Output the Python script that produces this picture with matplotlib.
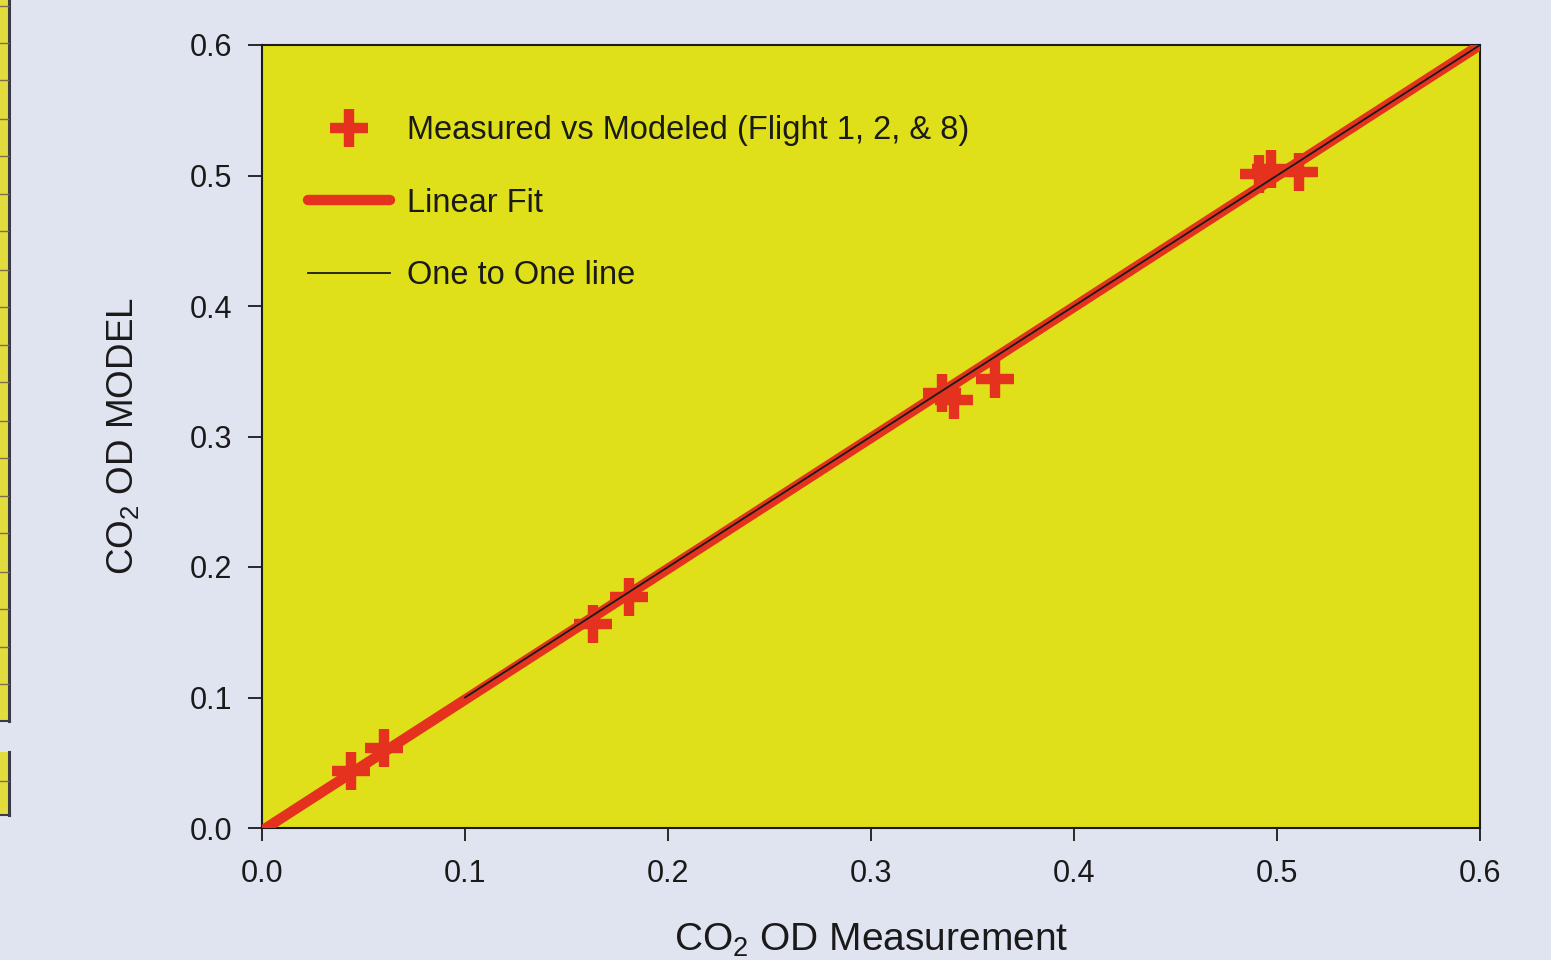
import matplotlib
matplotlib.use("Agg")
import matplotlib.pyplot as plt
from matplotlib.patches import Rectangle
from matplotlib.lines import Line2D

plt.rcParams['font.family'] = ['Liberation Sans', 'DejaVu Sans']
plt.rcParams['mathtext.fontset'] = 'custom'
plt.rcParams['mathtext.rm'] = 'Liberation Sans'
plt.rcParams['mathtext.it'] = 'Liberation Sans:italic'

# Data
measured = [0.044, 0.060, 0.163, 0.181, 0.335, 0.341, 0.361, 0.491, 0.497, 0.511]
modeled = [0.044, 0.061, 0.156, 0.177, 0.333, 0.328, 0.344, 0.501, 0.505, 0.503]
fit_x = [0.002, 0.6]
fit_y = [0.0, 0.6]
one_x = [0.1, 0.6]
one_y = [0.1, 0.6]
ticks = [0.0, 0.1, 0.2, 0.3, 0.4, 0.5, 0.6]
tick_labels = ['0.0', '0.1', '0.2', '0.3', '0.4', '0.5', '0.6']

RED = '#e5321f'
YEL = '#e0e01a'
BG = '#e0e3f0'
INK = '#1a1a1a'

fig = plt.figure(figsize=(15.51, 9.6), dpi=100, facecolor=BG)

# Fragment of table on left edge
W, H = 1551, 960
def fx(px): return px / W
def fy(py): return 1 - py / H
cells = [(0, 721), (752, 815)]
for y0, y1 in cells:
    fig.patches.append(Rectangle((0, fy(y1)), fx(8), fy(y0) - fy(y1), transform=fig.transFigure,
                                 facecolor='#e2dc3c', edgecolor='none'))
    fig.lines.append(Line2D([fx(9), fx(9)], [fy(y0), fy(y1)], transform=fig.transFigure,
                            color='#3a3a48', lw=2.2))
    fig.lines.append(Line2D([0, fx(10)], [fy(y1), fy(y1)], transform=fig.transFigure,
                            color='#3a3a48', lw=1.5))
for py in [6, 43, 80, 119, 156, 194, 231, 270, 307, 345, 382, 421, 458, 496, 533, 572, 609, 647, 684, 781]:
    fig.lines.append(Line2D([0, fx(8)], [fy(py), fy(py)], transform=fig.transFigure,
                            color='#7a7048', lw=1.0))

ax = fig.add_axes([262 / W, 1 - 828 / H, (1480 - 262) / W, (828 - 45) / H])
ax.set_facecolor(YEL)

ax.plot(fit_x, fit_y, color=RED, lw=7.5, solid_capstyle='round', label='Linear Fit', zorder=3)
ax.plot(one_x, one_y, color=INK, lw=1.3, label='One to One line', zorder=4)
ax.plot(measured, modeled, linestyle='none', marker='+', ms=27, mew=7.5, color=RED,
        label='Measured vs Modeled (Flight 1, 2, & 8)', zorder=2)

ax.set_xlim(0, 0.6)
ax.set_ylim(0, 0.6)
ax.set_xticks(ticks)
ax.set_xticklabels(tick_labels)
ax.set_yticks(ticks)
ax.set_yticklabels(tick_labels)
ax.tick_params(direction='out', width=1.3, labelsize=22, colors=INK)
ax.tick_params(axis='x', length=9, pad=13)
ax.tick_params(axis='y', length=10, pad=11.5)
for s in ax.spines.values():
    s.set_linewidth(1.5)
    s.set_color(INK)

ax.set_xlabel('CO$_2$ OD Measurement', fontsize=28, color=INK, labelpad=24)
ax.set_ylabel('CO$_2$ OD MODEL', fontsize=26.5, color=INK, labelpad=35)

handles, labels = ax.get_legend_handles_labels()
order = [2, 0, 1]
leg = ax.legend([handles[i] for i in order], [labels[i] for i in order], loc='upper left',
                bbox_to_anchor=(0.027, 0.927), borderaxespad=0, frameon=False, fontsize=23.5,
                handlelength=2.5, labelspacing=1.27, handletextpad=0.52, markerscale=1.0)
for t in leg.get_texts():
    t.set_color(INK)

fig.savefig('out.png', dpi=100, facecolor=BG)
